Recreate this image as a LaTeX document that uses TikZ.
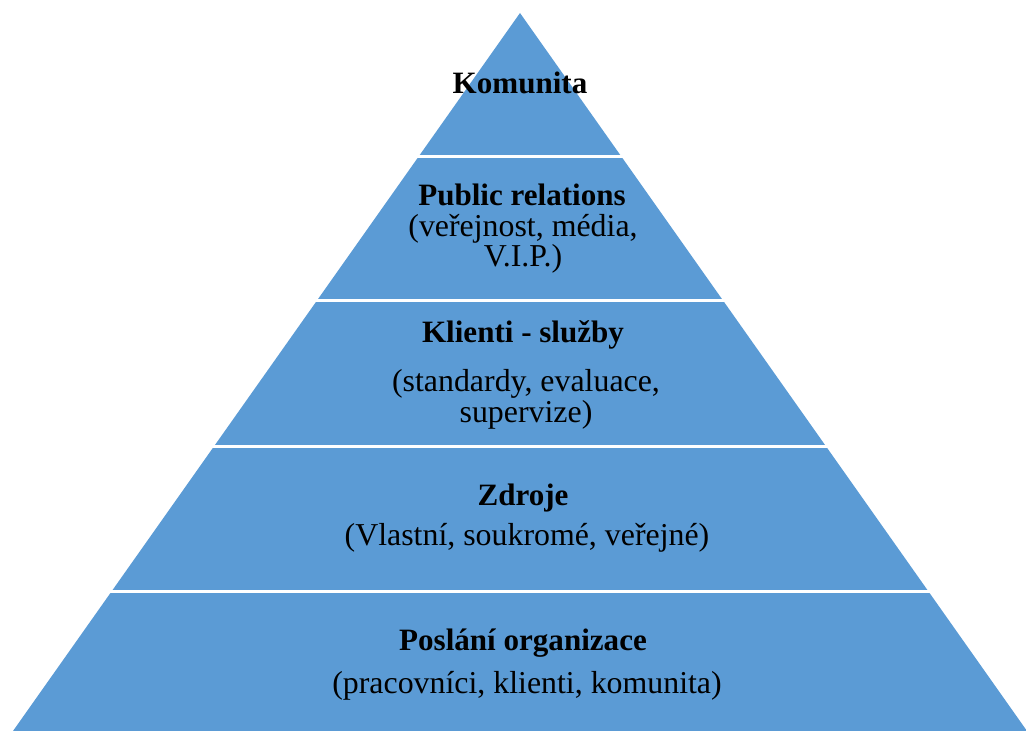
\documentclass[tikz,border=0pt]{standalone}
\usepackage{fontspec}
\setmainfont{Liberation Serif}
\usepackage{tikz}
\usetikzlibrary{calc,positioning}
\definecolor{pyrblue}{HTML}{5B9BD5}

\begin{document}
\begin{tikzpicture}[x=0.75pt,y=-0.75pt,
  lbl/.style={anchor=base,inner sep=0pt,align=center,font=\fontsize{23.9}{23.25}\selectfont},
  hd/.style={lbl,font=\fontsize{23.3}{27}\selectfont\bfseries}]
\useasboundingbox (0,0) rectangle (1026,731);
\coordinate (apex) at (520,13);
\coordinate (bl) at (13,731);
\coordinate (br) at (1027,731);
\fill[pyrblue] (apex) -- (bl) -- (br) -- cycle;
% white separators between the layers
\foreach \y in {156.5,300.5,446.5,591.5} {
  \pgfmathsetmacro{\dx}{0.7061*(\y-13)+4}
  \draw[white,line width=2.4pt] ({520-\dx},\y) -- ({520+\dx},\y);
}
% base = baseline of the last line
\node[hd] (komunita) at (520,94) {Komunita};
\node[hd] (pr) at (522,206) {Public relations};
\node[lbl,font=\fontsize{23.9}{20.25}\selectfont] (prsub) at (523,267) {(veřejnost, média,\\V.I.P.)};
\node[hd] (klienti) at (523,343) {Klienti - služby};
\node[lbl] (klsub) at (526,422) {(standardy, evaluace,\\supervize)};
\node[hd] (zdroje) at (523,505) {Zdroje};
\node[lbl] (zdsub) at (527,545) {(Vlastní, soukromé, veřejné)};
\node[hd] (poslani) at (523,650) {Poslání organizace};
\node[lbl] (posub) at (527,693) {(pracovníci, klienti, komunita)};
\end{tikzpicture}
\end{document}
